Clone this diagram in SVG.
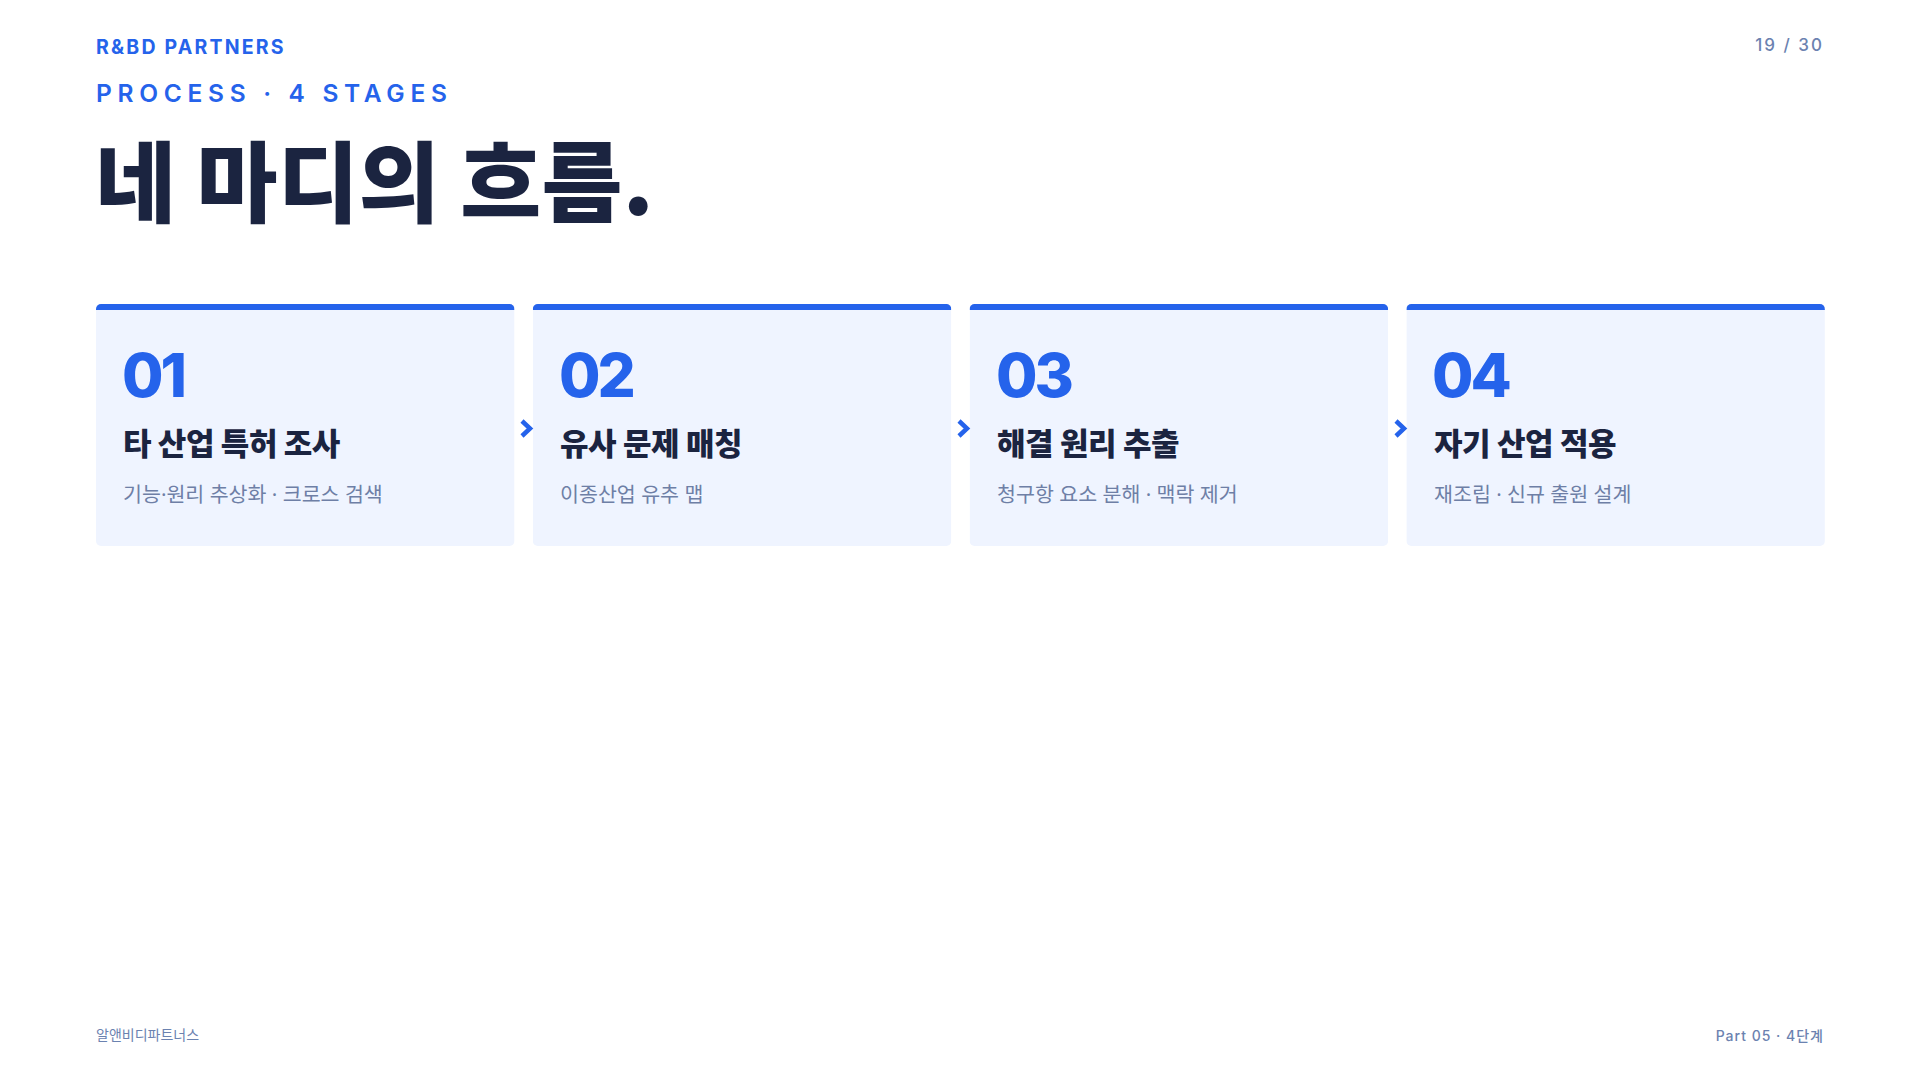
<svg xmlns="http://www.w3.org/2000/svg" width="1920" height="1080" viewBox="0 0 1920 1080">
<style>
.lat{font-family:Inter,"Noto Sans","Noto Sans CJK KR",sans-serif}
.kr{font-family:"Noto Sans CJK KR","Noto Sans",sans-serif}
.card{fill:#EFF4FF}
.bar{fill:#2563EB}
.num{font-family:Inter,"Noto Sans",sans-serif;font-weight:800;font-size:60px;fill:#2563EB;letter-spacing:-3px}
.ttl{font-family:"Noto Sans CJK KR",sans-serif;font-weight:800;font-size:31px;fill:#1B2440;letter-spacing:-0.4px}
.sub{font-family:"Noto Sans","Noto Sans CJK KR",sans-serif;font-weight:400;font-size:20.6px;fill:#6E7FA6}
.chev{fill:none;stroke:#2563EB;stroke-width:4.5;stroke-linejoin:miter}
</style>
<defs>
<clipPath id="c1"><rect x="96" y="304" width="418.5" height="242" rx="5"/></clipPath>
<clipPath id="c2"><rect x="532.8" y="304" width="418.5" height="242" rx="5"/></clipPath>
<clipPath id="c3"><rect x="969.6" y="304" width="418.5" height="242" rx="5"/></clipPath>
<clipPath id="c4"><rect x="1406.4" y="304" width="418.5" height="242" rx="5"/></clipPath>
</defs>
<rect width="1920" height="1080" fill="#FFFFFF"/>
<g id="header">
<text class="lat" x="96" y="54" font-size="19.5" font-weight="700" fill="#2563EB" letter-spacing="2.2">R&amp;BD PARTNERS</text>
<text class="lat" x="96" y="102" font-size="24.5" font-weight="600" fill="#2563EB" letter-spacing="5.7">PROCESS · 4 STAGES</text>
<text class="kr" x="95" y="215" font-size="88" font-weight="900" fill="#1B2440" letter-spacing="0.2">네 마디의 흐름.</text>
<text class="lat" x="1824" y="51" font-size="17" font-weight="500" fill="#6B82B0" letter-spacing="2" text-anchor="end">19 / 30</text>
</g>
<g id="stage1">
<g clip-path="url(#c1)"><rect class="card" x="96" y="304" width="418.5" height="242"/><rect class="bar" x="96" y="304" width="418.5" height="6"/></g>
<text class="num" x="122" y="397">01</text>
<text class="ttl" x="123" y="455">타 산업 특허 조사</text>
<text class="sub" x="123" y="502">기능·원리 추상화 · 크로스 검색</text>
</g>
<g id="stage2">
<g clip-path="url(#c2)"><rect class="card" x="532.8" y="304" width="418.5" height="242"/><rect class="bar" x="532.8" y="304" width="418.5" height="6"/></g>
<text class="num" x="559" y="397">02</text>
<text class="ttl" x="560" y="455">유사 문제 매칭</text>
<text class="sub" x="560" y="502">이종산업 유추 맵</text>
</g>
<g id="stage3">
<g clip-path="url(#c3)"><rect class="card" x="969.6" y="304" width="418.5" height="242"/><rect class="bar" x="969.6" y="304" width="418.5" height="6"/></g>
<text class="num" x="996" y="397">03</text>
<text class="ttl" x="997" y="455">해결 원리 추출</text>
<text class="sub" x="997" y="502">청구항 요소 분해 · 맥락 제거</text>
</g>
<g id="stage4">
<g clip-path="url(#c4)"><rect class="card" x="1406.4" y="304" width="418.5" height="242"/><rect class="bar" x="1406.4" y="304" width="418.5" height="6"/></g>
<text class="num" x="1432" y="397">04</text>
<text class="ttl" x="1434" y="455">자기 산업 적용</text>
<text class="sub" x="1434" y="502">재조립 · 신규 출원 설계</text>
</g>
<g id="connectors">
<path class="chev" d="M522,421 L530,428.5 L522,436"/>
<path class="chev" d="M959,421 L967,428.5 L959,436"/>
<path class="chev" d="M1396,421 L1404,428.5 L1396,436"/>
</g>
<g id="footer">
<text class="kr" x="96" y="1040" font-size="14" font-weight="400" fill="#6B82B0">알앤비디파트너스</text>
<text class="lat" x="1824" y="1041" font-size="14" font-weight="500" fill="#6B82B0" letter-spacing="1" text-anchor="end">Part 05 · 4단계</text>
</g>
</svg>
